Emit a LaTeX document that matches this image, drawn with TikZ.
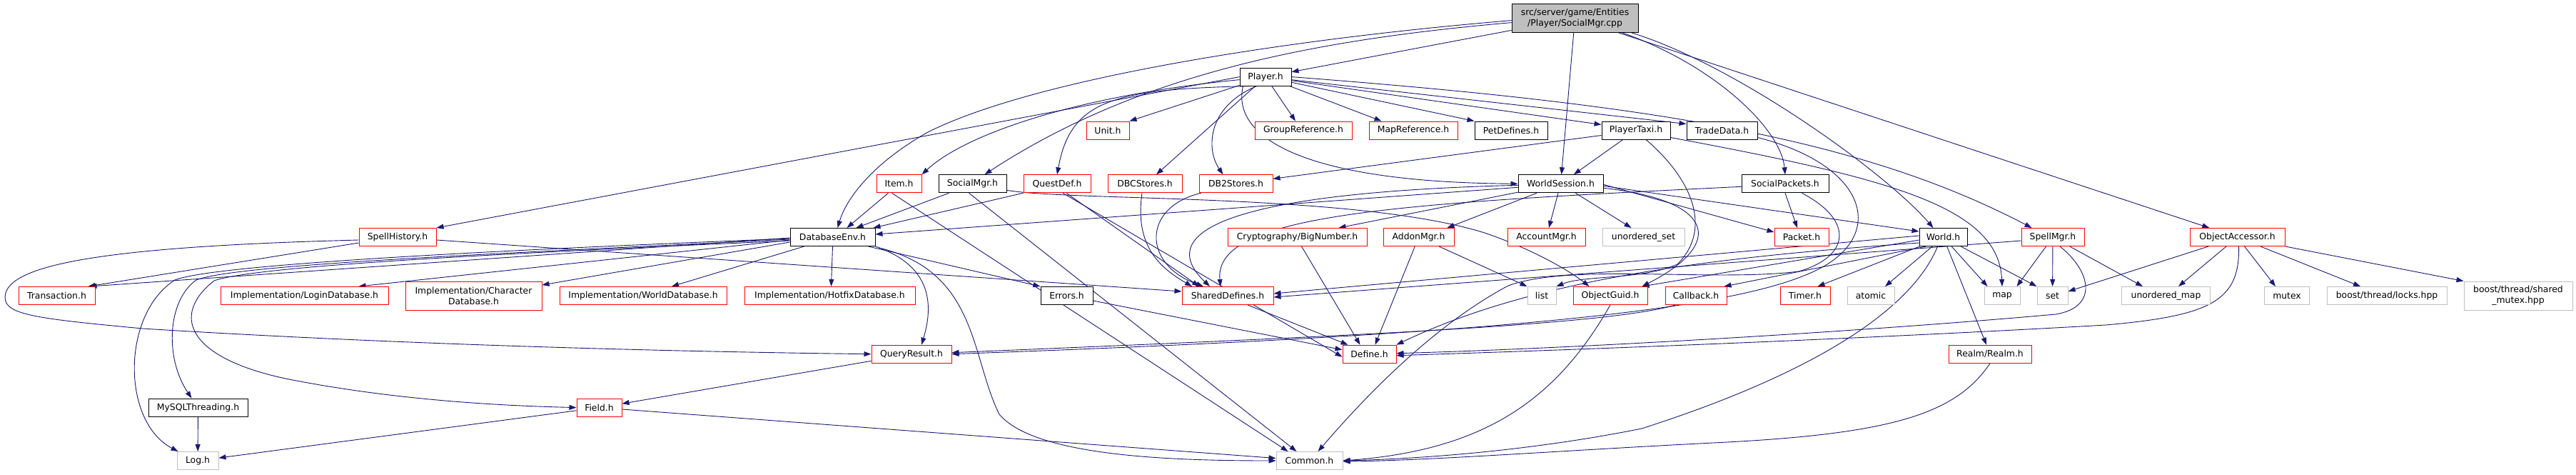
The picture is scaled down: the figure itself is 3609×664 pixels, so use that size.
\documentclass[tikz,border=0pt]{standalone}
\usepackage{fontspec}
\setmainfont{DejaVu Sans}
\usetikzlibrary{arrows.meta,calc}
\definecolor{edgeblue}{HTML}{191970}
\definecolor{extgray}{HTML}{BFBFBF}
\definecolor{rootgray}{HTML}{BFBFBF}
\pgfdeclarelayer{bg}
\pgfsetlayers{bg,main}
\begin{document}
\begin{tikzpicture}[x=1pt,y=1pt,
 box/.style={draw, fill=white, line width=1pt, inner sep=0pt, minimum height=25pt, align=center, font=\fontsize{12.4}{15}\selectfont},
 doc/.style={box, draw=black},
 trunc/.style={box, draw=red},
 ext/.style={box, draw=extgray},
 rootbox/.style={box, draw=black, fill=rootgray},
 edge/.style={draw=edgeblue, line width=0.9pt, -{Triangle[length=10pt,width=7pt]}}]
\begin{pgfonlayer}{bg}
\fill[white] (0,0) rectangle (3609,-664);
\end{pgfonlayer}
\useasboundingbox (0,0) rectangle (3609,-664);
% nodes
\node[rootbox, minimum width=177pt, minimum height=39.4pt] (root) at (2206.5,-25.6) {src/server/game/Entities\\/Player/SocialMgr.cpp};
\node[doc, minimum width=72pt] (Player) at (1773,-107.6) {Player.h};
\node[trunc, minimum width=60pt] (Unit) at (1552,-182.5) {Unit.h};
\node[trunc, minimum width=136pt] (GroupReference) at (1826,-182.5) {GroupReference.h};
\node[trunc, minimum width=124pt] (MapReference) at (1980,-182.5) {MapReference.h};
\node[doc, minimum width=102pt] (PetDefines) at (2117,-182.5) {PetDefines.h};
\node[doc, minimum width=96pt] (PlayerTaxi) at (2292,-182.5) {PlayerTaxi.h};
\node[doc, minimum width=99pt] (TradeData) at (2412.5,-182.5) {TradeData.h};
\node[trunc, minimum width=63pt] (Item) at (1259.5,-257.3) {Item.h};
\node[doc, minimum width=95pt] (SocialMgr) at (1362.5,-257.3) {SocialMgr.h};
\node[trunc, minimum width=94pt] (QuestDef) at (1481,-257.3) {QuestDef.h};
\node[trunc, minimum width=104pt] (DBCStores) at (1604,-257.3) {DBCStores.h};
\node[trunc, minimum width=103pt] (DB2Stores) at (1731.5,-257.3) {DB2Stores.h};
\node[doc, minimum width=119pt] (WorldSession) at (2186.5,-257.3) {WorldSession.h};
\node[doc, minimum width=122pt] (SocialPackets) at (2501,-257.3) {SocialPackets.h};
\node[trunc, minimum width=108pt] (SpellHistory) at (557,-332) {SpellHistory.h};
\node[doc, minimum width=119pt] (DatabaseEnv) at (1166.5,-332) {DatabaseEnv.h};
\node[trunc, minimum width=195pt] (BigNumber) at (1817.5,-332) {Cryptography/BigNumber.h};
\node[trunc, minimum width=99pt] (AddonMgr) at (1987.5,-332) {AddonMgr.h};
\node[trunc, minimum width=109pt] (AccountMgr) at (2166.5,-332) {AccountMgr.h};
\node[ext, minimum width=115pt] (unorderedset) at (2302.5,-332) {unordered\_set};
\node[trunc, minimum width=76pt] (Packet) at (2524,-332) {Packet.h};
\node[doc, minimum width=67pt] (World) at (2722.5,-332) {World.h};
\node[trunc, minimum width=88pt] (SpellMgr) at (2876,-332) {SpellMgr.h};
\node[trunc, minimum width=133pt] (ObjectAccessor) at (3134.5,-332) {ObjectAccessor.h};
\node[trunc, minimum width=107pt] (Transaction) at (79.5,-414) {Transaction.h};
\node[trunc, minimum width=235pt] (LoginDatabase) at (426.5,-414) {Implementation/LoginDatabase.h};
\node[trunc, minimum width=191pt, minimum height=40pt] (CharacterDatabase) at (663.5,-414) {Implementation/Character\\Database.h};
\node[trunc, minimum width=234pt] (WorldDatabase) at (901,-414) {Implementation/WorldDatabase.h};
\node[trunc, minimum width=239pt] (HotfixDatabase) at (1162.5,-414) {Implementation/HotfixDatabase.h};
\node[doc, minimum width=73pt] (Errors) at (1494.5,-414) {Errors.h};
\node[trunc, minimum width=128pt] (SharedDefines) at (1720,-414) {SharedDefines.h};
\node[ext, minimum width=40pt] (list) at (2160,-414) {list};
\node[trunc, minimum width=104pt] (ObjectGuid) at (2256,-414) {ObjectGuid.h};
\node[trunc, minimum width=86pt] (Callback) at (2376,-414) {Callback.h};
\node[trunc, minimum width=70pt] (Timer) at (2529,-414) {Timer.h};
\node[ext, minimum width=66pt] (atomic) at (2621,-414) {atomic};
\node[ext, minimum width=50pt] (map) at (2805,-414) {map};
\node[ext, minimum width=43pt] (set) at (2875.5,-414) {set};
\node[ext, minimum width=124pt] (unorderedmap) at (3034.5,-414) {unordered\_map};
\node[ext, minimum width=63pt] (mutex) at (3204,-414) {mutex};
\node[ext, minimum width=168pt] (locks) at (3344,-414) {boost/thread/locks.hpp};
\node[ext, minimum width=152pt, minimum height=40pt] (sharedmutex) at (3528,-414) {boost/thread/shared\\\_mutex.hpp};
\node[trunc, minimum width=112pt] (QueryResult) at (1277,-495.7) {QueryResult.h};
\node[trunc, minimum width=75pt] (Define) at (1918.5,-495.7) {Define.h};
\node[trunc, minimum width=116pt] (Realm) at (2788,-495.7) {Realm/Realm.h};
\node[doc, minimum width=139pt] (MySQLThreading) at (277.5,-570.6) {MySQLThreading.h};
\node[trunc, minimum width=63pt] (Field) at (839.5,-570.6) {Field.h};
\node[ext, minimum width=58pt] (Log) at (277,-645) {Log.h};
\node[ext, minimum width=93pt] (Common) at (1834.5,-645) {Common.h};
% edges
\begin{pgfonlayer}{bg}
% root
\draw[edge] (root) -- (Player);
\draw[edge] ($(root.west)+(0,-6)$) .. controls (1850,-55) and (1600,-100) .. ($(SocialMgr.north)+(17,0)$);
\draw[edge] ($(root.west)+(0,-3)$) .. controls (1800,-55) and (1450,-110) .. (1300,-185) .. controls (1220,-230) and (1185,-280) .. ($(DatabaseEnv.north)+(7,0)$);
\draw[edge] (root) -- (WorldSession);
\draw[edge] ($(root.south east)+(-23,0)$) .. controls (2400,-90) and (2495,-180) .. (SocialPackets.north);
\draw[edge] ($(root.south east)+(-10,0)$) .. controls (2430,-90) and (2640,-240) .. ($(World.north)+(-14,0)$);
\draw[edge] (root) -- (ObjectAccessor);
% Player
\draw[edge] (Player.west) -- (SpellHistory.north east);
\draw[edge] ($(Player.west)+(0,-4)$) .. controls (1500,-135) and (1350,-190) .. (Item.north east);
\draw[edge] (Player) -- (Unit.north east);
\draw[edge] ($(Player.south west)+(13,0)$) .. controls (1560,-125) and (1500,-140) .. (QuestDef.north);
\draw[edge] (Player) -- ($(DBCStores.north)+(16,0)$);
\draw[edge] ($(Player.south west)+(24,0)$) .. controls (1690,-150) and (1690,-210) .. ($(DB2Stores.north west)+(34,0)$);
\draw[edge] (Player) -- ($(GroupReference.north)+(-11,0)$);
\draw[edge] (Player) -- ($(MapReference.north west)+(18,0)$);
\draw[edge] (Player) -- (PetDefines.north west);
\draw[edge] (Player) -- ($(PlayerTaxi.west)+(0,8)$);
\draw[edge] (Player) -- ($(TradeData.west)+(0,9)$);
\draw[edge] ($(Player.south west)+(5,0)$) .. controls (1725,-190) and (1820,-255) .. (WorldSession.west);
\draw[edge] (Player.east) .. controls (2300,-145) and (2600,-190) .. ($(SpellMgr.north west)+(15,0)$);
% PlayerTaxi / TradeData
\draw[edge] ($(PlayerTaxi.west)+(0,-7)$) -- ($(DB2Stores.east)+(0,7)$);
\draw[edge] (PlayerTaxi) -- (WorldSession);
\draw[edge] ($(PlayerTaxi.south east)+(0,3)$) .. controls (2650,-250) and (2800,-290) .. (map.north);
\draw[edge] ($(PlayerTaxi.south)+(14,0)$) .. controls (2370,-250) and (2400,-320) .. (2350,-370) .. controls (2300,-392) and (2220,-385) .. (list.north east);
\draw[edge] ($(TradeData.south east)+(0,3)$) .. controls (2610,-230) and (2640,-320) .. (2560,-370) .. controls (2470,-425) and (2200,-465) .. (QueryResult.east);
% SocialPackets
\draw[edge] (SocialPackets.south) -- ($(Packet.north)+(-6,0)$);
\draw[edge] ($(SocialPackets.south east)+(-38,0)$) .. controls (2600,-310) and (2590,-360) .. (2520,-380) .. controls (2400,-395) and (2200,-368) .. (2113,-400) .. controls (2000,-460) and (1900,-570) .. ($(Common.north)+(12,0)$);
\draw[edge] ($(SocialPackets.west)+(0,-4)$) .. controls (1950,-285) and (1700,-300) .. ($(SharedDefines.north)+(-10,0)$);
% WorldSession
\draw[edge] ($(WorldSession.west)+(0,-5)$) -- ($(DatabaseEnv.east)+(0,4)$);
\draw[edge] (WorldSession) -- ($(BigNumber.north east)+(-40,0)$);
\draw[edge] (WorldSession) -- ($(AddonMgr.north east)+(-10,0)$);
\draw[edge] (WorldSession) -- (AccountMgr);
\draw[edge] (WorldSession) -- ($(unorderedset.north)+(-17,0)$);
\draw[edge] ($(WorldSession.east)+(0,-1)$) -- ($(Packet.west)+(0,7)$);
\draw[edge] ($(WorldSession.east)+(0,-3)$) -- ($(World.west)+(0,8)$);
\draw[edge] ($(WorldSession.east)+(0,-6)$) .. controls (2400,-280) and (2420,-340) .. ($(ObjectGuid.north east)+(-8,0)$);
\draw[edge] ($(WorldSession.west)+(0,-2)$) .. controls (1700,-270) and (1620,-330) .. ($(SharedDefines.north)+(-25,0)$);
% World
\draw[edge] ($(World.west)+(0,2)$) -- ($(SharedDefines.east)+(0,3)$);
\draw[edge] ($(World.west)+(0,-4)$) -- ($(ObjectGuid.north east)+(-8,0)$);
\draw[edge] ($(World.south west)+(10,0)$) -- ($(Callback.north east)+(-4,0)$);
\draw[edge] (World) -- ($(Timer.north east)+(-18,0)$);
\draw[edge] (World) -- ($(atomic.north)+(20,0)$);
\draw[edge] (World) -- ($(map.north west)+(5,0)$);
\draw[edge] (World) -- (set.north west);
\draw[edge] (World) -- ($(Realm.north)+(-5,0)$);
\draw[edge] ($(World.south)+(-8,0)$) .. controls (2680,-430) and (2550,-520) .. (2300,-600) .. controls (2150,-630) and (2000,-642) .. (Common.east);
\draw[edge] ($(World.west)+(0,-8)$) .. controls (2400,-360) and (2150,-390) .. (Define.north east);
% SpellMgr
\draw[edge] ($(SpellMgr.west)+(0,-5)$) -- ($(SharedDefines.east)+(0,-2)$);
\draw[edge] (SpellMgr) -- ($(map.north east)+(-5,0)$);
\draw[edge] (SpellMgr) -- (set);
\draw[edge] (SpellMgr) -- ($(unorderedmap.north west)+(30,0)$);
\draw[edge] ($(SpellMgr.south)+(10,0)$) .. controls (2930,-380) and (2940,-430) .. (2880,-440) .. controls (2600,-465) and (2200,-488) .. ($(Define.east)+(0,1)$);
% ObjectAccessor
\draw[edge] (ObjectAccessor) -- ($(set.east)+(0,6)$);
\draw[edge] (ObjectAccessor) -- ($(unorderedmap.north east)+(-45,0)$);
\draw[edge] (ObjectAccessor) -- ($(mutex.north)+(-16,0)$);
\draw[edge] (ObjectAccessor) -- ($(locks.north)+(-37,0)$);
\draw[edge] (ObjectAccessor) -- (sharedmutex.north west);
\draw[edge] ($(ObjectAccessor.south)+(2,0)$) .. controls (3138,-420) and (3100,-442) .. (2950,-455) .. controls (2600,-475) and (2200,-490) .. ($(Define.east)+(0,-2)$);
% middle
\draw[edge] (AddonMgr) -- ($(Define.north)+(8,0)$);
\draw[edge] (AddonMgr) -- (list.north west);
\draw[edge] ($(BigNumber.south)+(6,0)$) -- ($(Define.north)+(-13,0)$);
\draw[edge] ($(SharedDefines.south)+(28,0)$) -- ($(Define.north west)+(8,0)$);
\draw[edge] ($(Errors.east)+(0,-7)$) -- ($(Define.west)+(0,6)$);
\draw[edge] ($(QuestDef.south)+(8,0)$) -- ($(Define.west)+(0,-4)$);
\draw[edge] (ObjectGuid.south) .. controls (2180,-560) and (2080,-630) .. (Common.east);
\draw[edge] (Realm.south) .. controls (2740,-580) and (2650,-608) .. (2400,-620) .. controls (2200,-630) and (2000,-645) .. ($(Common.east)+(0,-1)$);
\draw[edge] ($(Callback.south west)+(15,0)$) .. controls (2250,-455) and (1900,-470) .. ($(QueryResult.east)+(0,2)$);
\draw[edge] (QueryResult) -- (Field);
\draw[edge] (Field) -- (Log);
\draw[edge] (Field) -- (Common);
\draw[edge] (MySQLThreading) -- (Log);
\draw[edge] ($(DBCStores.south)+(-4,0)$) .. controls (1590,-340) and (1620,-372) .. ($(SharedDefines.north)+(-50,0)$);
\draw[edge] ($(DB2Stores.south west)+(3,0)$) .. controls (1600,-290) and (1600,-370) .. ($(SharedDefines.north)+(-34,0)$);
\draw[edge] ($(QuestDef.south)+(13,0)$) -- ($(SharedDefines.north)+(-40,0)$);
\draw[edge] (QuestDef.south west) -- ($(DatabaseEnv.north east)+(-3,0)$);
\draw[edge] ($(Item.south west)+(17,0)$) -- ($(DatabaseEnv.north)+(20,0)$);
\draw[edge] ($(Item.south)+(-10,0)$) -- ($(Common.north)+(-30,0)$);
\draw[edge] ($(SocialMgr.south west)+(15,0)$) -- ($(DatabaseEnv.north)+(33,0)$);
\draw[edge] ($(SocialMgr.south)+(-5,0)$) -- ($(Common.north)+(-18,0)$);
\draw[edge] ($(SocialMgr.east)+(0,-9)$) .. controls (1500,-282) and (1900,-270) .. (2080,-326) .. controls (2150,-350) and (2200,-380) .. ($(ObjectGuid.north west)+(23,0)$);
% DatabaseEnv
\draw[edge] ($(DatabaseEnv.west)+(0,-1)$) -- ($(Transaction.north east)+(-8,0)$);
\draw[edge] ($(DatabaseEnv.west)+(0,-4)$) -- ($(LoginDatabase.north east)+(-42,0)$);
\draw[edge] ($(DatabaseEnv.west)+(0,-7)$) -- ($(CharacterDatabase.east)+(0,15)$);
\draw[edge] ($(DatabaseEnv.south west)+(20,0)$) -- ($(WorldDatabase.north)+(40,0)$);
\draw[edge] (DatabaseEnv.south) -- ($(HotfixDatabase.north)+(2,0)$);
\draw[edge] ($(DatabaseEnv.south east)+(-10,0)$) -- (Errors.north west);
\draw[edge] (DatabaseEnv.south east) .. controls (1300,-370) and (1310,-420) .. ($(QueryResult.north)+(14,0)$);
\draw[edge] ($(DatabaseEnv.south east)+(5,-2)$) .. controls (1370,-380) and (1360,-500) .. (1400,-580) .. controls (1450,-640) and (1650,-645) .. (Common.west);
\draw[edge] ($(DatabaseEnv.west)+(0,-2)$) .. controls (700,-350) and (300,-370) .. (245,-392) .. controls (170,-440) and (170,-590) .. ($(Log.north west)+(2,0)$);
\draw[edge] ($(DatabaseEnv.west)+(0,-3)$) .. controls (700,-355) and (330,-370) .. (275,-392) .. controls (235,-420) and (230,-500) .. ($(MySQLThreading.north)+(-9,0)$);
\draw[edge] ($(DatabaseEnv.west)+(0,-5)$) .. controls (700,-355) and (360,-372) .. (300,-393) .. controls (240,-440) and (260,-500) .. (400,-530) .. controls (550,-560) and (700,-568) .. (Field.west);
% SpellHistory
\draw[edge] ($(SpellHistory.west)+(0,-8)$) -- ($(Transaction.north east)+(-10,0)$);
\draw[edge] ($(SpellHistory.east)+(0,-4)$) -- ($(SharedDefines.west)+(0,6)$);
\draw[edge] ($(SpellHistory.west)+(0,-4)$) .. controls (150,-345) and (20,-370) .. (8,-410) .. controls (0,-440) and (40,-445) .. (200,-460) .. controls (600,-485) and (1000,-493) .. (QueryResult.west);
\end{pgfonlayer}
\end{tikzpicture}
\end{document}
